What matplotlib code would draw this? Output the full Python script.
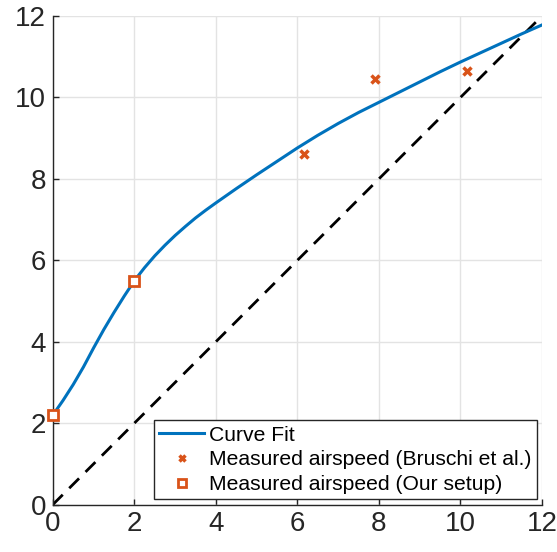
import matplotlib
matplotlib.use("Agg")
import matplotlib.pyplot as plt

plt.rcParams['font.family'] = ['Liberation Sans', 'DejaVu Sans']

# curve fit
fit_x = [0, 0.25, 0.5, 0.75, 1.0, 1.25, 1.5, 1.75, 2.0, 2.25, 2.5, 2.75, 3.0, 3.25, 3.5,
         3.75, 4.0, 4.5, 5.0, 5.5, 6.0, 6.5, 7.0, 7.5, 8.0, 8.5, 9.0, 9.5, 10.0, 10.5,
         11.0, 11.5, 12.0]
fit_y = [2.2, 2.56, 2.95, 3.38, 3.85, 4.30, 4.72, 5.12, 5.5, 5.82, 6.11, 6.37, 6.61, 6.83, 7.04,
         7.23, 7.41, 7.76, 8.10, 8.43, 8.76, 9.07, 9.36, 9.63, 9.88, 10.13, 10.38, 10.63, 10.87,
         11.10, 11.33, 11.56, 11.78]

# measured airspeed (Bruschi et al.)
bru_x = [6.16, 7.91, 10.15]
bru_y = [8.62, 10.45, 10.65]

# measured airspeed (our setup)
our_x = [0, 2]
our_y = [2.2, 5.5]

ident = [0, 12]

blue = '#0072BD'
orange = '#D95319'
dark = '#262626'

fig = plt.figure(figsize=(5.57, 5.52), dpi=100)
ax = fig.add_axes([0.095, 0.086, 0.878, 0.885])

ax.plot(fit_x, fit_y, color=blue, lw=2.2, label='Curve Fit', zorder=3)
ax.plot(ident, ident, color='black', lw=2.0, ls=(0, (5, 3.3)), zorder=2)
ax.plot(bru_x, bru_y, ls='none', marker='x', ms=6, mew=2.5, color=orange,
        label='Measured airspeed (Bruschi et al.)', zorder=4)
ax.plot(our_x, our_y, ls='none', marker='s', ms=7.5, mew=2, mec=orange, mfc='white',
        label='Measured airspeed (Our setup)', zorder=4, clip_on=False)

ax.set_xlim(0, 12)
ax.set_ylim(0, 12)
ax.set_xticks(range(0, 13, 2))
ax.set_yticks(range(0, 13, 2))
ax.grid(True, color='#e3e3e3', lw=1)
ax.set_axisbelow(True)

for s in ['top', 'right']:
    ax.spines[s].set_visible(False)
for s in ['left', 'bottom']:
    ax.spines[s].set_color(dark)
    ax.spines[s].set_linewidth(1)
ax.tick_params(direction='in', length=4, width=1, colors=dark, labelsize=20, pad=5)

leg = ax.legend(loc='lower right', fontsize=15.2, frameon=True, fancybox=False,
                edgecolor=dark, framealpha=1, borderpad=0.25, labelspacing=0.27,
                handlelength=2.1, handletextpad=0.25, borderaxespad=0.25, markerscale=0.7)
leg.get_frame().set_linewidth(1)

fig.savefig('out.png', dpi=100)
